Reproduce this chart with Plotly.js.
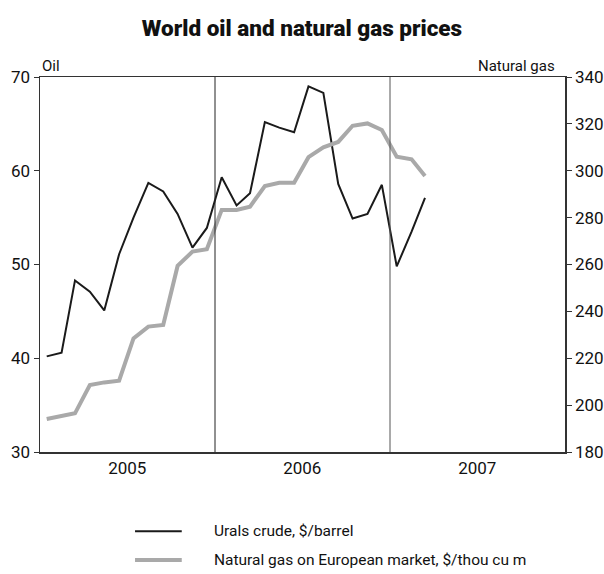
<!DOCTYPE html>
<html>
<head>
<meta charset="utf-8">
<script src="https://cdn.plot.ly/plotly-3.0.1.min.js"></script>
<style>html,body{margin:0;padding:0;background:#fff;}#chart{width:604px;height:574px;}</style>
</head>
<body>
<div id="chart"></div>
<script>
// Monthly observations, Jan 2005 – Mar 2007
var months = ['2005-01-15','2005-02-15','2005-03-15','2005-04-15','2005-05-15','2005-06-15',
              '2005-07-15','2005-08-15','2005-09-15','2005-10-15','2005-11-15','2005-12-15',
              '2006-01-15','2006-02-15','2006-03-15','2006-04-15','2006-05-15','2006-06-15',
              '2006-07-15','2006-08-15','2006-09-15','2006-10-15','2006-11-15','2006-12-15',
              '2007-01-15','2007-02-15','2007-03-15'];
var uralsCrude = [40.2, 40.6, 48.3, 47.1, 45.1, 51.1, 55.0, 58.7, 57.8, 55.4, 51.8, 53.9,
                  59.3, 56.3, 57.6, 65.2, 64.6, 64.1, 69.0, 68.3, 58.6, 54.9, 55.4, 58.5,
                  49.8, 53.5, 57.1];
var naturalGas = [194.1, 195.4, 196.5, 208.6, 209.7, 210.4, 228.5, 233.5, 234.2, 259.4, 265.5, 266.5,
                  283.3, 283.3, 284.7, 293.5, 294.9, 294.9, 305.8, 310.0, 312.3, 319.2, 320.2, 317.4,
                  306.0, 304.9, 297.8];
var yearLabels = ['2005', '2006', '2007'];
var yearLabelPos = ['2005-07-02', '2006-07-02', '2007-07-02'];
var yearBoundaries = ['2006-01-01', '2007-01-01'];
var boundaryColors = ['#222', '#555'];
var seriesNames = ['Urals crude, $/barrel', 'Natural gas on European market, $/thou cu m'];

var FONT = 'Roboto, "Liberation Sans", sans-serif';
var oilColor = '#1a1a1a';
var gasColor = '#a9a9a9';

var traces = [
  {x: months, y: naturalGas, yaxis: 'y2', type: 'scatter', mode: 'lines', name: seriesNames[1],
   line: {color: gasColor, width: 4}, showlegend: false, hoverinfo: 'skip'},
  {x: months, y: uralsCrude, yaxis: 'y', type: 'scatter', mode: 'lines', name: seriesNames[0],
   line: {color: oilColor, width: 2}, showlegend: false, hoverinfo: 'skip'}
];

var shapes = yearBoundaries.map(function (d, i) {
  return {type: 'line', xref: 'x', yref: 'paper', x0: d, x1: d, y0: 0, y1: 1,
          line: {color: boundaryColors[i], width: 1}};
});
// legend keys
shapes.push({type: 'line', xref: 'paper', yref: 'paper', x0: 0.181, x1: 0.270, y0: -0.211, y1: -0.211,
             line: {color: oilColor, width: 2}});
shapes.push({type: 'line', xref: 'paper', yref: 'paper', x0: 0.181, x1: 0.270, y0: -0.288, y1: -0.288,
             line: {color: gasColor, width: 4}});

var annotations = [
  {text: 'Oil', xref: 'paper', yref: 'paper', x: 0, y: 1, xanchor: 'left', yanchor: 'bottom',
   yshift: 0, showarrow: false, font: {family: FONT, size: 15, color: '#111'}},
  {text: 'Natural gas', xref: 'paper', yref: 'paper', x: 0.985, y: 1, xanchor: 'right', yanchor: 'bottom',
   yshift: 0, showarrow: false, font: {family: FONT, size: 15, color: '#111'}},
  {text: seriesNames[0], xref: 'paper', yref: 'paper', x: 0.328, y: -0.211, xanchor: 'left', yanchor: 'middle',
   showarrow: false, font: {family: FONT, size: 15.5, color: '#111'}},
  {text: seriesNames[1], xref: 'paper', yref: 'paper', x: 0.328, y: -0.288, xanchor: 'left', yanchor: 'middle',
   showarrow: false, font: {family: FONT, size: 15.5, color: '#111'}}
];

var layout = {
  width: 604, height: 574,
  margin: {l: 40, r: 39, t: 77, b: 122},
  paper_bgcolor: '#fff', plot_bgcolor: '#fff',
  showlegend: false,
  title: {text: 'World oil and natural gas prices', x: 0.5, xanchor: 'center', y: 0.951, yanchor: 'middle',
          font: {family: FONT, size: 22.5, weight: 900, color: '#111'}},
  font: {family: FONT, size: 17, color: '#111'},
  xaxis: {type: 'date', range: ['2005-01-01', '2008-01-01'], tickmode: 'array',
          tickvals: yearLabelPos, ticktext: yearLabels, ticks: '', showgrid: false, zeroline: false,
          showline: true, linecolor: '#333', linewidth: 1.5, mirror: true,
          tickfont: {family: FONT, size: 17, color: '#111'}},
  yaxis: {range: [30, 70], dtick: 10, tick0: 30, ticks: 'outside', ticklen: 5, tickcolor: '#333',
          showgrid: false, zeroline: false, showline: true, linecolor: '#333', linewidth: 1.5,
          tickfont: {family: FONT, size: 17, color: '#111'}},
  yaxis2: {range: [180, 340], dtick: 20, tick0: 180, overlaying: 'y', side: 'right', ticks: 'outside',
           ticklen: 5, tickcolor: '#333', showgrid: false, zeroline: false, showline: true,
           linecolor: '#333', linewidth: 1.5, tickfont: {family: FONT, size: 17, color: '#111'}},
  shapes: shapes,
  annotations: annotations
};

Plotly.newPlot('chart', traces, layout, {staticPlot: true, displayModeBar: false});
</script>
</body>
</html>
